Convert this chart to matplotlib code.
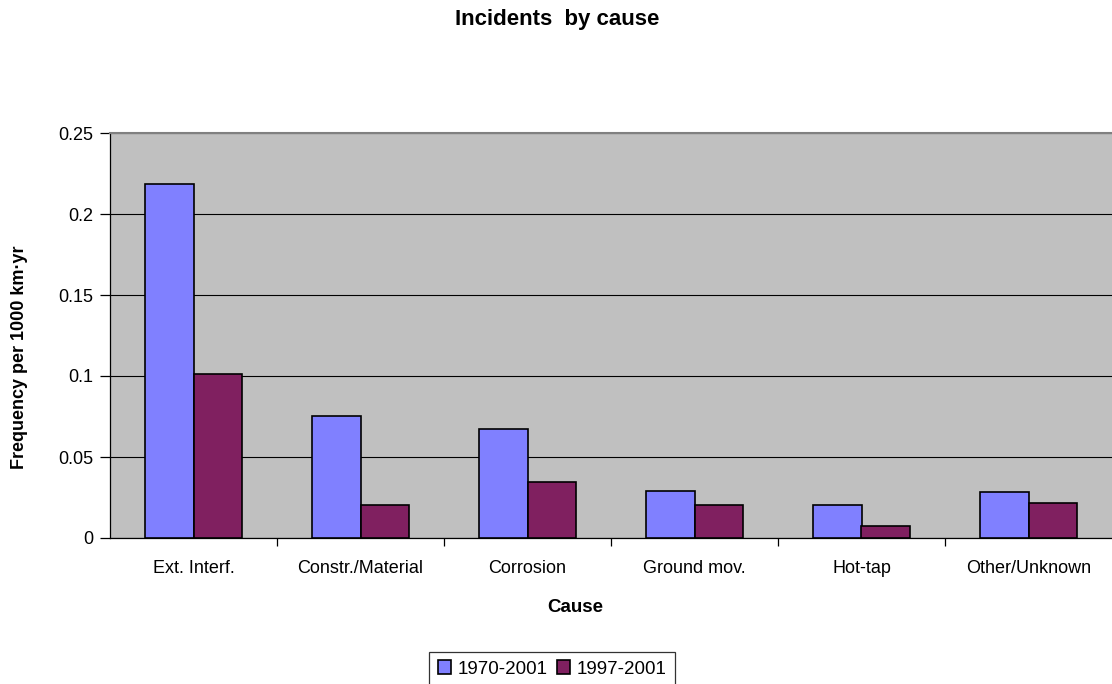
import matplotlib
matplotlib.use("Agg")
import matplotlib.pyplot as plt
import numpy as np

causes = ["Ext. Interf.", "Constr./Material", "Corrosion", "Ground mov.", "Hot-tap", "Other/Unknown"]
series_names = ["1970-2001", "1997-2001"]
freq_1970_2001 = [0.2187, 0.0752, 0.0672, 0.0293, 0.0206, 0.0281]
freq_1997_2001 = [0.1010, 0.0204, 0.0346, 0.0204, 0.0074, 0.0216]
y_ticks = [0, 0.05, 0.1, 0.15, 0.2, 0.25]
y_ticklabels = ["0", "0.05", "0.1", "0.15", "0.2", "0.25"]

plt.rcParams["font.family"] = ["Liberation Sans", "DejaVu Sans"]

W, H = 1112, 684
fig = plt.figure(figsize=(W / 100, H / 100), dpi=100)
ax = fig.add_axes([110 / W, (H - 538) / H, 1 - 110 / W, (538 - 133) / H])
ax.set_facecolor("#C0C0C0")

x = np.arange(len(causes))
w = 0.29
ax.bar(x - w / 2, freq_1970_2001, width=w, color="#8080FF", edgecolor="black",
       linewidth=1.2, label=series_names[0], zorder=3)
ax.bar(x + w / 2, freq_1997_2001, width=w, color="#802060", edgecolor="black",
       linewidth=1.2, label=series_names[1], zorder=3)

ax.set_xlim(-0.5, len(causes) - 0.5)
ax.set_ylim(0, 0.25)
ax.set_yticks(y_ticks)
ax.set_yticklabels(y_ticklabels, fontsize=13)
ax.yaxis.grid(True, color="black", linewidth=0.8, zorder=1)
ax.set_axisbelow(True)

# category labels centred, tick marks between categories
ax.set_xticks(x)
ax.set_xticklabels(causes, fontsize=13)
ax.tick_params(axis="x", length=0, pad=16)
ax.set_xticks(np.arange(0.5, len(causes) - 0.5, 1.0), minor=True)
ax.tick_params(axis="x", which="minor", length=6, width=0.9, color="black", direction="out")
ax.tick_params(axis="y", length=7, width=0.9, direction="out", pad=5)

for side in ("left", "bottom"):
    ax.spines[side].set_color("black")
    ax.spines[side].set_linewidth(0.9)
ax.spines["top"].set_color("#808080")
ax.spines["top"].set_linewidth(1.5)
ax.spines["right"].set_visible(False)

fig.text(557 / W, 1 - 20 / H, "Incidents  by cause", ha="center", va="center",
         fontsize=16, fontweight="bold")
fig.text(20 / W, 1 - 357 / H, "Frequency per 1000 km·yr", ha="center", va="center",
         rotation=90, fontsize=13, fontweight="bold")
fig.text(575 / W, 1 - 608 / H, "Cause", ha="center", va="center",
         fontsize=13.5, fontweight="bold")

leg = fig.legend(loc="center", bbox_to_anchor=(552 / W, 1 - 669 / H), ncol=2,
                 fontsize=13.5, frameon=True, fancybox=False, handlelength=0.7,
                 handleheight=0.7, handletextpad=0.35, columnspacing=0.5,
                 borderpad=0.45, borderaxespad=0)
leg.get_frame().set_edgecolor("black")
leg.get_frame().set_linewidth(0.9)

fig.savefig("out.png", dpi=100, facecolor="white")
